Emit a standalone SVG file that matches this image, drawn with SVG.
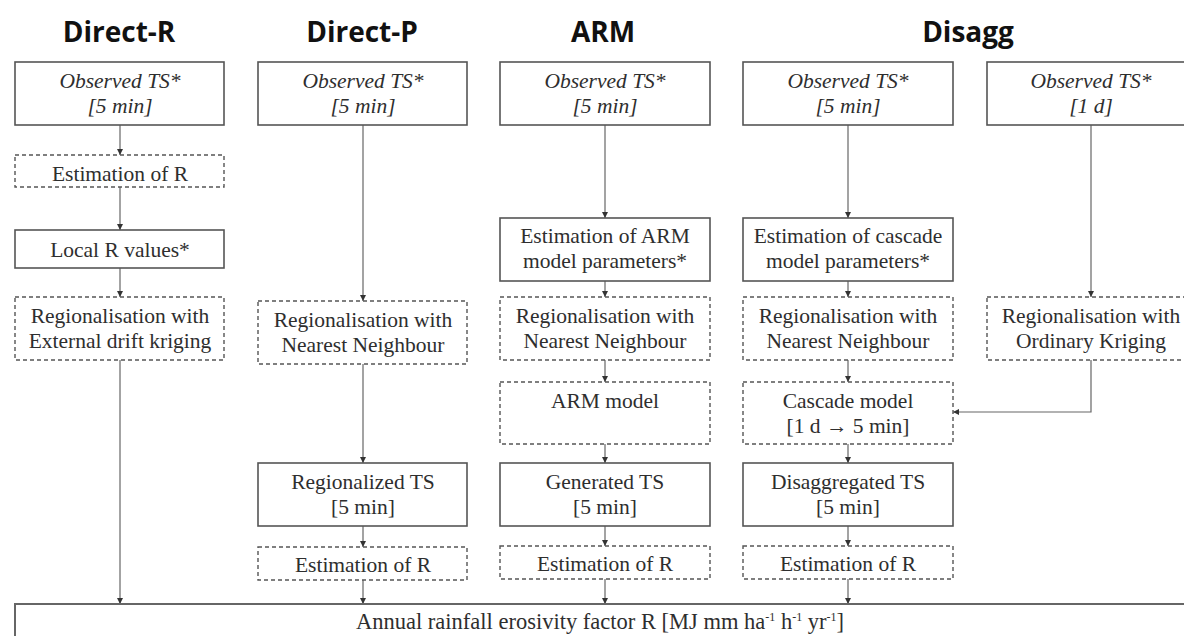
<svg xmlns="http://www.w3.org/2000/svg" width="1184" height="636" viewBox="0 0 1184 636">
<style>
.h{font-family:"Open Sans","Liberation Sans",sans-serif;font-weight:bold;font-size:28px;fill:#111;text-anchor:middle}
.t{font-family:"Liberation Serif","Times New Roman",serif;font-size:21.5px;fill:#2e2e2e;text-anchor:middle}
.i{font-style:italic}
.s{fill:#fff;stroke:#555;stroke-width:1.6}
.d{fill:#fff;stroke:#555;stroke-width:1.4;stroke-dasharray:4 3}
.c{fill:none;stroke:#666;stroke-width:1.2;marker-end:url(#ah)}
.sup{font-size:12px}
</style>
<defs>
<marker id="ah" markerUnits="userSpaceOnUse" markerWidth="7" markerHeight="7" refX="6" refY="3.5" orient="auto">
<path d="M0,0.5 L6,3.5 L0,6.5 z" fill="#333"/>
</marker>
</defs>
<rect width="1184" height="636" fill="#fff"/>
<g id="headings">
<text class="h" x="119" y="42">Direct-R</text>
<text class="h" x="362" y="42">Direct-P</text>
<text class="h" x="603" y="42">ARM</text>
<text class="h" x="968" y="42">Disagg</text>
</g>
<g id="connectors">
<path class="c" d="M120,125 V155"/>
<path class="c" d="M120,187 V230"/>
<path class="c" d="M120,268 V297"/>
<path class="c" d="M120,360 V604"/>
<path class="c" d="M363,125 V301"/>
<path class="c" d="M363,364 V463"/>
<path class="c" d="M363,526 V547"/>
<path class="c" d="M363,580 V604"/>
<path class="c" d="M605,125 V218"/>
<path class="c" d="M605,281 V297"/>
<path class="c" d="M605,360 V382"/>
<path class="c" d="M605,444 V463"/>
<path class="c" d="M605,526 V546"/>
<path class="c" d="M605,579 V604"/>
<path class="c" d="M848,125 V218"/>
<path class="c" d="M848,281 V297"/>
<path class="c" d="M848,360 V382"/>
<path class="c" d="M848,444 V463"/>
<path class="c" d="M848,526 V546"/>
<path class="c" d="M848,579 V604"/>
<path class="c" d="M1091,125 V297"/>
<path class="c" d="M1091,360 V412 H953"/>
</g>
<g id="n1-obs"><rect class="s" x="15" y="62" width="209" height="63"/><text class="t i" x="120" y="88">Observed TS*</text><text class="t i" x="120" y="113">[5 min]</text></g>
<g id="n1-est"><rect class="d" x="15" y="155" width="209" height="32"/><text class="t" x="120" y="181">Estimation of R</text></g>
<g id="n1-local"><rect class="s" x="15" y="230" width="209" height="38"/><text class="t" x="120" y="257">Local R values*</text></g>
<g id="n1-reg"><rect class="d" x="15" y="297" width="209" height="63"/><text class="t" x="120" y="323">Regionalisation with</text><text class="t" x="120" y="348">External drift kriging</text></g>

<g id="n2-obs"><rect class="s" x="258" y="62" width="209" height="63"/><text class="t i" x="363" y="88">Observed TS*</text><text class="t i" x="363" y="113">[5 min]</text></g>
<g id="n2-reg"><rect class="d" x="258" y="301" width="209" height="63"/><text class="t" x="363" y="327">Regionalisation with</text><text class="t" x="363" y="352">Nearest Neighbour</text></g>
<g id="n2-ts"><rect class="s" x="258" y="463" width="209" height="63"/><text class="t" x="363" y="489">Regionalized TS</text><text class="t" x="363" y="514">[5 min]</text></g>
<g id="n2-est"><rect class="d" x="258" y="547" width="209" height="33"/><text class="t" x="363" y="572">Estimation of R</text></g>

<g id="n3-obs"><rect class="s" x="500" y="62" width="210" height="63"/><text class="t i" x="605" y="88">Observed TS*</text><text class="t i" x="605" y="113">[5 min]</text></g>
<g id="n3-par"><rect class="s" x="500" y="218" width="210" height="63"/><text class="t" x="605" y="243">Estimation of ARM</text><text class="t" x="605" y="268">model parameters*</text></g>
<g id="n3-reg"><rect class="d" x="500" y="297" width="210" height="63"/><text class="t" x="605" y="323">Regionalisation with</text><text class="t" x="605" y="348">Nearest Neighbour</text></g>
<g id="n3-model"><rect class="d" x="500" y="382" width="210" height="62"/><text class="t" x="605" y="408">ARM model</text></g>
<g id="n3-ts"><rect class="s" x="500" y="463" width="210" height="63"/><text class="t" x="605" y="489">Generated TS</text><text class="t" x="605" y="514">[5 min]</text></g>
<g id="n3-est"><rect class="d" x="500" y="546" width="210" height="33"/><text class="t" x="605" y="571">Estimation of R</text></g>

<g id="n4-obs"><rect class="s" x="743" y="62" width="210" height="63"/><text class="t i" x="848" y="88">Observed TS*</text><text class="t i" x="848" y="113">[5 min]</text></g>
<g id="n4-par"><rect class="s" x="743" y="218" width="210" height="63"/><text class="t" x="848" y="243">Estimation of cascade</text><text class="t" x="848" y="268">model parameters*</text></g>
<g id="n4-reg"><rect class="d" x="743" y="297" width="210" height="63"/><text class="t" x="848" y="323">Regionalisation with</text><text class="t" x="848" y="348">Nearest Neighbour</text></g>
<g id="n4-model"><rect class="d" x="743" y="382" width="210" height="62"/><text class="t" x="848" y="408">Cascade model</text><text class="t" x="848" y="433">[1 d → 5 min]</text></g>
<g id="n4-ts"><rect class="s" x="743" y="463" width="210" height="63"/><text class="t" x="848" y="489">Disaggregated TS</text><text class="t" x="848" y="514">[5 min]</text></g>
<g id="n4-est"><rect class="d" x="743" y="546" width="210" height="33"/><text class="t" x="848" y="571">Estimation of R</text></g>

<g id="n5-obs"><rect class="s" x="987" y="62" width="209" height="63"/><text class="t i" x="1091" y="88">Observed TS*</text><text class="t i" x="1091" y="113">[1 d]</text></g>
<g id="n5-reg"><rect class="d" x="987" y="297" width="209" height="63"/><text class="t" x="1091" y="323">Regionalisation with</text><text class="t" x="1091" y="348">Ordinary Kriging</text></g>

<g id="n-final"><rect x="15" y="604" width="1185" height="50" fill="#fff" stroke="#666" stroke-width="2"/><text class="t" x="600" y="629" style="font-size:22.5px">Annual rainfall erosivity factor R [MJ mm ha<tspan class="sup" dy="-8">-1</tspan><tspan dy="8"> h</tspan><tspan class="sup" dy="-8">-1</tspan><tspan dy="8"> yr</tspan><tspan class="sup" dy="-8">-1</tspan><tspan dy="8">]</tspan></text></g>
</svg>
